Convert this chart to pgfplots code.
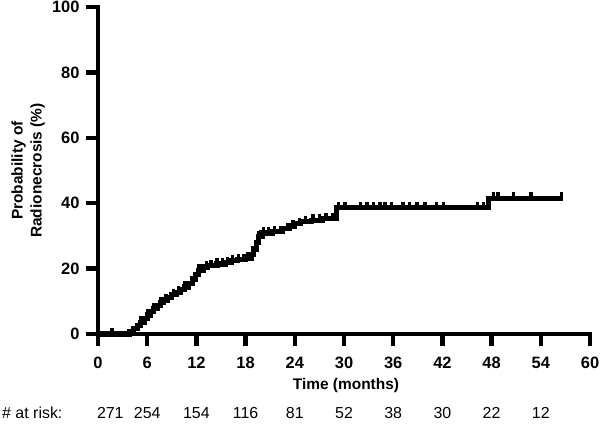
\documentclass[border=0pt]{standalone}
\usepackage{pgfplots}
\pgfplotsset{compat=1.18}
\usepackage{fontspec}
\setmainfont{Liberation Sans}
\pgfdeclareplotmark{cens}{%
  \pgfpathrectangle{\pgfpoint{-1.7bp}{0bp}}{\pgfpoint{3.4bp}{5.8bp}}%
  \pgfusepathqfill}
\begin{document}
\begin{tikzpicture}
\path[use as bounding box] (0,0) rectangle (600bp,429bp);
\begin{axis}[
  at={(98bp,95bp)}, anchor=south west,
  scale only axis, width=492bp, height=327bp,
  xmin=0, xmax=60, ymin=0, ymax=100,
  axis lines*=left,
  axis line style={line width=4.3bp, line cap=rect},
  xtick={0,6,...,60}, ytick={0,20,...,100},
  tick align=outside,
  major tick length=12bp,
  every tick/.style={black, line width=4.3bp},
  /pgf/number format/assume math mode=true,
  ticklabel style={font=\bfseries\fontsize{16.5}{16.5}\selectfont},
  xticklabel style={yshift=-8bp},
  yticklabel style={xshift=-3bp},
  xlabel={Time (months)},
  xlabel style={font=\bfseries\fontsize{15.5}{17}\selectfont, at={(axis description cs:0.504,-0.156)}, anchor=center},
  ylabel={Probability of\\Radionecrosis (\%)},
  ylabel style={font=\bfseries\fontsize{15.5}{19}\selectfont, align=center, at={(axis description cs:-0.142,0.5)}, anchor=center, rotate=0},
  clip=false,
]
\addplot[const plot, black, line width=5.2bp, line cap=butt, line join=miter] table {
x y
0 0
3.8 0.8
4.3 1.6
4.8 2.6
5.2 3.6
5.6 4.8
6.0 5.8
6.4 6.8
6.8 7.8
7.2 8.8
7.6 9.6
8.0 10.4
8.5 11.2
9.0 12.0
9.5 12.8
10.0 13.6
10.5 14.4
11.0 15.5
11.5 16.8
11.9 18.2
12.3 19.5
12.8 20.5
13.4 21.0
14.5 21.4
15.5 21.8
16.3 22.4
17.0 22.8
18.0 23.2
18.7 24.3
19.0 26.0
19.3 28.0
19.6 29.8
20.0 30.9
21.3 31.4
22.5 32.2
23.3 33.0
24.0 33.8
24.7 34.4
26.0 34.8
27.4 35.3
29.1 38.7
47.6 41.5
56.7 41.5
};
\addplot[only marks, mark=cens, black] table {
x y
1.7 0
5.2 3.6
6.0 5.8
6.8 7.8
7.6 9.6
8.3 10.4
9.2 12.0
9.8 12.8
10.6 14.4
11.4 15.5
12.3 19.5
13.2 20.5
13.8 21.0
14.5 21.4
15.2 21.4
15.8 21.8
16.4 22.4
17.1 22.8
17.8 22.8
18.3 23.2
19.6 29.8
20.2 30.9
20.8 30.9
21.5 31.4
22.3 31.4
23.1 32.2
23.8 33.0
24.6 33.8
25.3 34.4
26.2 34.8
27.0 34.8
27.8 35.3
28.6 35.3
29.3 38.7
30.1 38.7
32.0 38.7
32.8 38.7
33.6 38.7
34.4 38.7
35.0 38.7
35.8 38.7
37.2 38.7
38.0 38.7
38.9 38.7
39.9 38.7
41.3 38.7
42.1 38.7
46.3 38.7
47.0 38.7
48.2 41.5
48.8 41.5
50.7 41.5
52.8 41.5
56.5 41.5
};
\begin{scope}[every node/.style={font=\fontsize{16}{16}\selectfont, anchor=base, inner sep=0pt}]
\node[anchor=base west] at ([yshift=-84bp]axis cs:0,0) [xshift=-96bp] {\# at risk:};
\node at ([yshift=-84bp]axis cs:1.5,0) {271};
\node at ([yshift=-84bp]axis cs:6,0) {254};
\node at ([yshift=-84bp]axis cs:12,0) {154};
\node at ([yshift=-84bp]axis cs:18,0) {116};
\node at ([yshift=-84bp]axis cs:24,0) {81};
\node at ([yshift=-84bp]axis cs:30,0) {52};
\node at ([yshift=-84bp]axis cs:36,0) {38};
\node at ([yshift=-84bp]axis cs:42,0) {30};
\node at ([yshift=-84bp]axis cs:48,0) {22};
\node at ([yshift=-84bp]axis cs:54,0) {12};
\end{scope}
\end{axis}
\end{tikzpicture}
\end{document}
